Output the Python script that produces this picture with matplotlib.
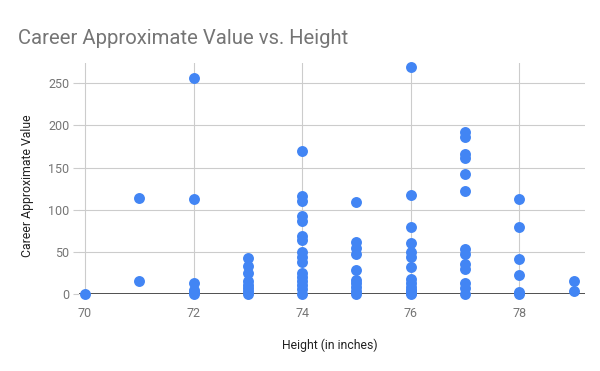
import matplotlib.pyplot as plt

### Data
heights_70 = [70]
values_70 = [0]
heights_71 = [71, 71]
values_71 = [114, 16]
heights_72 = [72] * 6
values_72 = [256, 113, 13, 5, 2, 0]
heights_73 = [73] * 8
values_73 = [43, 33, 25, 15, 11, 7, 3, 0]
heights_74 = [74] * 16
values_74 = [170, 116, 110, 92, 87, 69, 64, 50, 44, 38, 25, 20, 16, 11, 6, 0]
heights_75 = [75] * 10
values_75 = [109, 62, 55, 48, 29, 17, 13, 8, 4, 0]
heights_76 = [76] * 14
values_76 = [269, 118, 79, 61, 50, 44, 32, 18, 13, 8, 5, 3, 1, 0]
heights_77 = [77] * 13
values_77 = [192, 186, 166, 161, 142, 122, 53, 48, 36, 30, 13, 7, 0]
heights_78 = [78] * 6
values_78 = [113, 79, 41, 22, 2, 0]
heights_79 = [79, 79]
values_79 = [15, 4]

x = (heights_70 + heights_71 + heights_72 + heights_73 + heights_74
     + heights_75 + heights_76 + heights_77 + heights_78 + heights_79)
y = (values_70 + values_71 + values_72 + values_73 + values_74
     + values_75 + values_76 + values_77 + values_78 + values_79)

x_ticks = [70, 72, 74, 76, 78]
y_ticks = [0, 50, 100, 150, 200, 250]

plt.rcParams['font.family'] = ['Roboto', 'DejaVu Sans']

fig = plt.figure(figsize=(6, 3.71), dpi=100)
ax = fig.add_axes([0.1317, 0.2075, 0.8433, 0.6225])

ax.scatter(x, y, s=62, color='#4285f4', zorder=3, clip_on=False, linewidths=0)

ax.set_xlim(69.89, 79.21)
ax.set_ylim(0, 274)
ax.set_xticks(x_ticks)
ax.set_yticks(y_ticks)
ax.grid(True, color='#cccccc', linewidth=0.8)
ax.axhline(0, color='#333333', linewidth=1.2, zorder=2)
for s in ax.spines.values():
    s.set_visible(False)
ax.tick_params(axis='x', length=0, labelsize=9, labelcolor='#757575', pad=9)
ax.tick_params(axis='y', length=4, color='#cccccc', width=0.8, labelsize=9,
               labelcolor='#757575', pad=3)

fig.text(0.03, 0.882, 'Career Approximate Value vs. Height', fontsize=14.6, color='#757575')
fig.text(0.045, 0.499, 'Career Approximate Value', rotation=90, ha='center', va='center',
         fontsize=8.8, color='#222222')
fig.text(0.55, 0.07, 'Height (in inches)', ha='center', va='center', fontsize=8.8, color='#222222')

plt.savefig('out.png', dpi=100)
